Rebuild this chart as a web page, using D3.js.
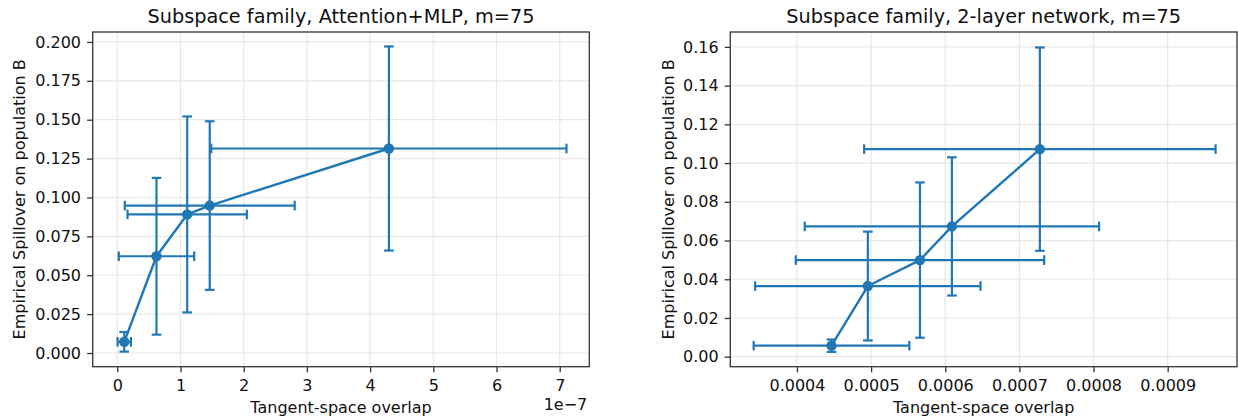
<!DOCTYPE html>
<html>
<head>
<meta charset="utf-8">
<script src="https://cdn.jsdelivr.net/npm/d3@7"></script>
<style>
  html, body { margin: 0; padding: 0; background: #fff; }
  svg { display: block; font-family: "DejaVu Sans", sans-serif; }
</style>
</head>
<body>
<svg id="chart" width="1238" height="420"></svg>
<script>
// Attention+MLP panel: overlap (x), spillover (y) and their error half-widths
const overlapAttn    = [0.11e-7, 0.62e-7, 1.106e-7, 1.4625e-7, 4.297e-7];
const overlapAttnErr = [0.105e-7, 0.597e-7, 0.944e-7, 1.344e-7, 2.81e-7];
const spillAttn      = [0.0072, 0.0622, 0.0891, 0.0948, 0.1315];
const spillAttnErr   = [0.0063, 0.0504, 0.0630, 0.0542, 0.0656];
const xTicksAttn     = [0, 1e-7, 2e-7, 3e-7, 4e-7, 5e-7, 6e-7, 7e-7];
const yTicksAttn     = [0, 0.025, 0.05, 0.075, 0.1, 0.125, 0.15, 0.175, 0.2];

// 2-layer network panel
const overlapNet     = [0.0004466, 0.0004956, 0.0005659, 0.000609, 0.0007276];
const overlapNetErr  = [0.000105, 0.000152, 0.0001675, 0.0001985, 0.000237];
const spillNet       = [0.0057, 0.0365, 0.0499, 0.0673, 0.1072];
const spillNetErr    = [0.0032, 0.0281, 0.0401, 0.0357, 0.0525];
const xTicksNet      = [0.0004, 0.0005, 0.0006, 0.0007, 0.0008, 0.0009];
const yTicksNet      = [0, 0.02, 0.04, 0.06, 0.08, 0.10, 0.12, 0.14, 0.16];

const titles = ["Subspace family, Attention+MLP, m=75", "Subspace family, 2-layer network, m=75"];

const svg = d3.select("#chart");
const BLUE = "#1f77b4";
const SPINE = "#333333";
const TEXT = "#111111";

function panel(opts) {
  const { left, right, top, bottom, xDomain, yDomain, xs, xe, ys, ye,
          xTicks, yTicks, xFmt, yFmt, title, offsetText, ylabelX } = opts;
  const g = svg.append("g");
  const x = d3.scaleLinear().domain(xDomain).range([left, right]);
  const y = d3.scaleLinear().domain(yDomain).range([bottom, top]);

  // grid
  g.append("g").selectAll("line").data(xTicks).join("line")
    .attr("x1", d => x(d)).attr("x2", d => x(d))
    .attr("y1", top).attr("y2", bottom)
    .attr("stroke", "#e8e8e8").attr("stroke-width", 1.2);
  g.append("g").selectAll("line").data(yTicks).join("line")
    .attr("y1", d => y(d)).attr("y2", d => y(d))
    .attr("x1", left).attr("x2", right)
    .attr("stroke", "#e8e8e8").attr("stroke-width", 1.2);

  // axes
  const xAxis = d3.axisBottom(x).tickValues(xTicks).tickFormat(xFmt)
    .tickSizeInner(5.6).tickSizeOuter(0).tickPadding(7.3);
  const yAxis = d3.axisLeft(y).tickValues(yTicks).tickFormat(yFmt)
    .tickSizeInner(5.6).tickSizeOuter(0).tickPadding(6.1);
  const gx = g.append("g").attr("transform", `translate(0,${bottom})`).call(xAxis);
  const gy = g.append("g").attr("transform", `translate(${left},0)`).call(yAxis);
  [gx, gy].forEach(a => {
    a.select(".domain").remove();
    a.selectAll("line").attr("stroke", SPINE).attr("stroke-width", 1.3);
    a.selectAll("text").attr("fill", TEXT).style("font-size", "16px")
      .style("font-family", "'DejaVu Sans', sans-serif");
  });

  // error bars
  const eb = g.append("g").attr("stroke", BLUE).attr("stroke-width", 2.2)
    .attr("fill", "none");
  const cap = 4.8;
  xs.forEach((xv, i) => {
    const cx = x(xv), cy = y(ys[i]);
    const x0 = x(xv - xe[i]), x1 = x(xv + xe[i]);
    const y0 = y(ys[i] - ye[i]), y1 = y(ys[i] + ye[i]);
    eb.append("line").attr("x1", x0).attr("x2", x1).attr("y1", cy).attr("y2", cy);
    eb.append("line").attr("x1", x0).attr("x2", x0).attr("y1", cy - cap).attr("y2", cy + cap);
    eb.append("line").attr("x1", x1).attr("x2", x1).attr("y1", cy - cap).attr("y2", cy + cap);
    eb.append("line").attr("x1", cx).attr("x2", cx).attr("y1", y0).attr("y2", y1);
    eb.append("line").attr("y1", y0).attr("y2", y0).attr("x1", cx - cap).attr("x2", cx + cap);
    eb.append("line").attr("y1", y1).attr("y2", y1).attr("x1", cx - cap).attr("x2", cx + cap);
  });

  // connecting line and markers
  const pts = xs.map((xv, i) => [xv, ys[i]]);
  g.append("path").datum(pts)
    .attr("d", d3.line().x(d => x(d[0])).y(d => y(d[1])))
    .attr("fill", "none").attr("stroke", BLUE).attr("stroke-width", 2.4)
    .attr("stroke-linejoin", "round");
  g.append("g").selectAll("circle").data(pts).join("circle")
    .attr("cx", d => x(d[0])).attr("cy", d => y(d[1])).attr("r", 5.2)
    .attr("fill", BLUE);

  // frame
  g.append("rect").attr("x", left).attr("y", top)
    .attr("width", right - left).attr("height", bottom - top)
    .attr("fill", "none").attr("stroke", SPINE).attr("stroke-width", 1.3);

  // labels
  g.append("text").attr("x", (left + right) / 2).attr("y", 23)
    .attr("text-anchor", "middle").style("font-size", "19.3px").attr("fill", TEXT)
    .text(title);
  g.append("text").attr("x", (left + right) / 2).attr("y", 413)
    .attr("text-anchor", "middle").style("font-size", "16px").attr("fill", TEXT)
    .text("Tangent-space overlap");
  g.append("text")
    .attr("transform", `translate(${ylabelX},${(top + bottom) / 2}) rotate(-90)`)
    .attr("text-anchor", "middle").style("font-size", "16px").attr("fill", TEXT)
    .text("Empirical Spillover on population B");
  if (offsetText) {
    g.append("text").attr("x", right - 2).attr("y", 410)
      .attr("text-anchor", "end").style("font-size", "16px").attr("fill", TEXT)
      .text(offsetText);
  }
}

panel({
  left: 92.7, right: 589.3, top: 32, bottom: 366.7,
  xDomain: [-0.389e-7, 7.468e-7], yDomain: [-0.0088, 0.2064],
  xs: overlapAttn, xe: overlapAttnErr, ys: spillAttn, ye: spillAttnErr,
  xTicks: xTicksAttn, yTicks: yTicksAttn,
  xFmt: d => String(Math.round(d / 1e-7)), yFmt: d3.format(".3f"),
  title: titles[0], offsetText: "1e\u22127", ylabelX: 25
});

panel({
  left: 730.3, right: 1237, top: 32, bottom: 366.7,
  xDomain: [0.0003101, 0.0009935], yDomain: [-0.00516, 0.1677],
  xs: overlapNet, xe: overlapNetErr, ys: spillNet, ye: spillNetErr,
  xTicks: xTicksNet, yTicks: yTicksNet,
  xFmt: d3.format(".4f"), yFmt: d3.format(".2f"),
  title: titles[1], ylabelX: 674
});
</script>
</body>
</html>
